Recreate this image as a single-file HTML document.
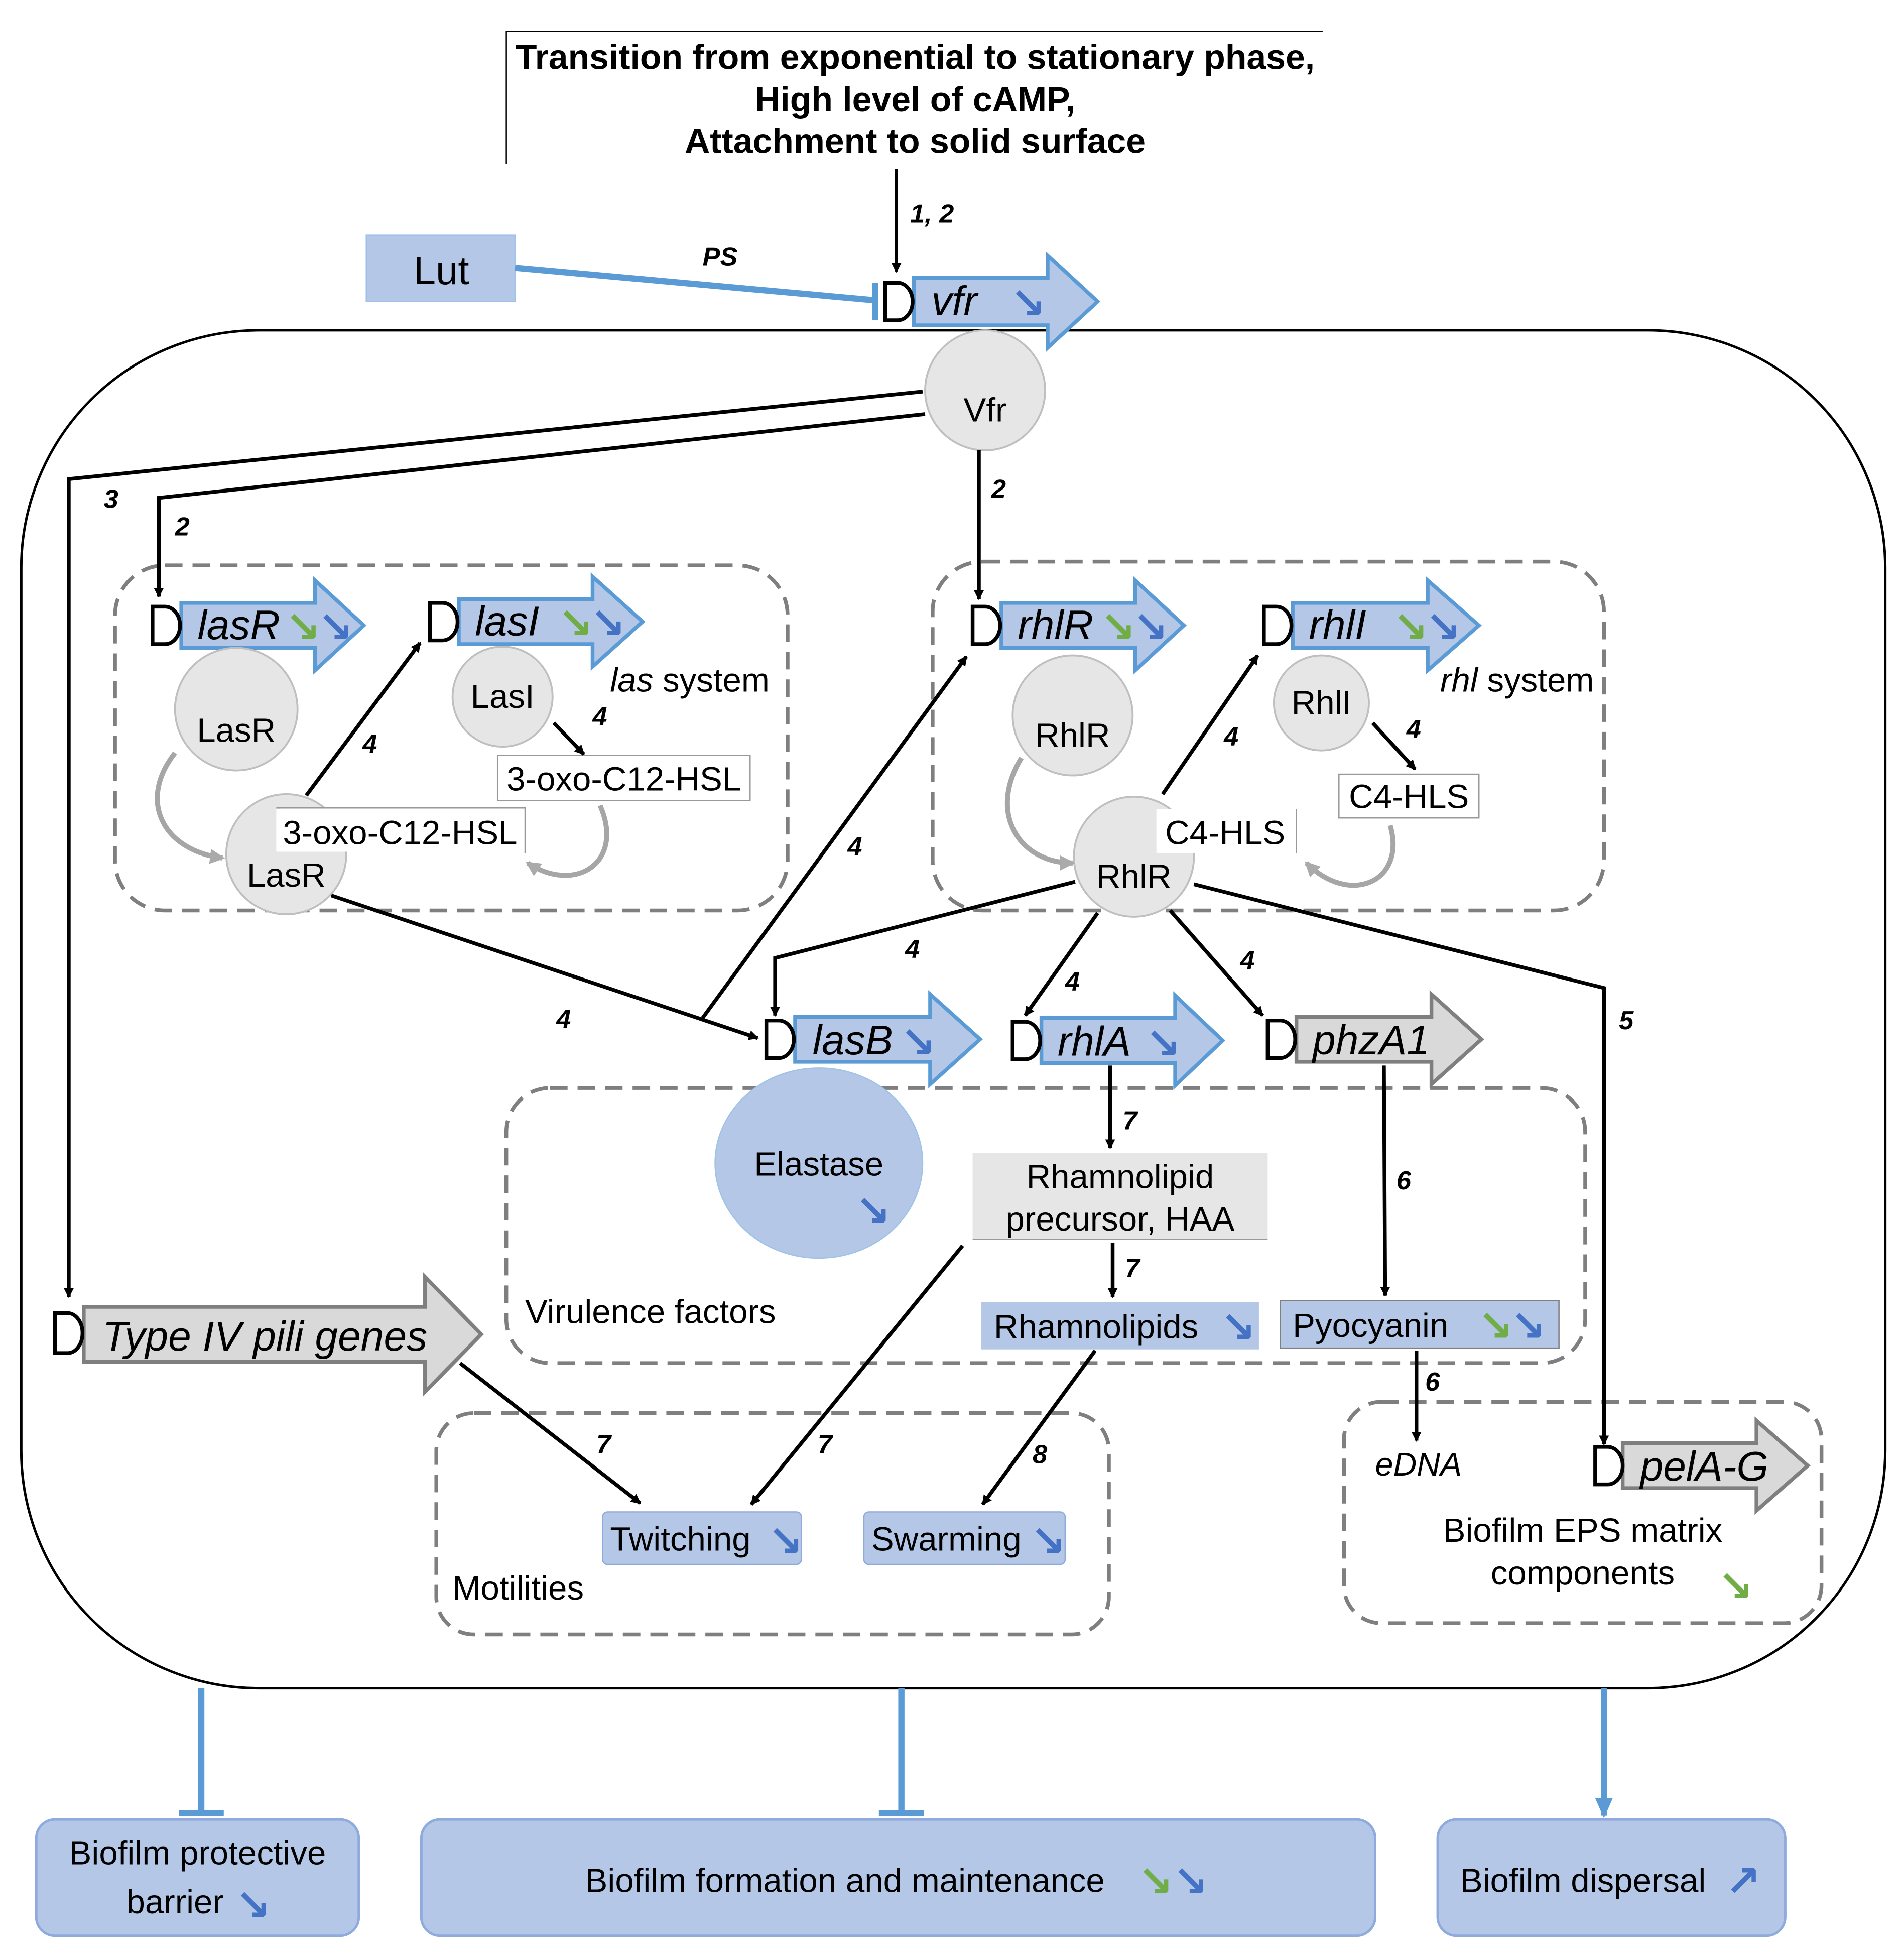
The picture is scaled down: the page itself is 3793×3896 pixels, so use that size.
<!DOCTYPE html>
<html><head><meta charset="utf-8"><style>
html,body{margin:0;padding:0;background:#fff}
svg{display:block}
text{font-family:"Liberation Sans","DejaVu Sans",sans-serif}
.n{font-style:italic;font-weight:bold;font-size:21px}
.g{font-style:italic;font-size:33px}
.l{font-size:27px}
.b{fill:#4472c4;font-family:"DejaVu Sans",sans-serif;font-size:34px;font-weight:bold}
.gr{fill:#70ad47;font-family:"DejaVu Sans",sans-serif;font-size:34px;font-weight:bold}
</style></head><body>
<svg width="3793" height="3896" viewBox="0 0 1523 1564" xmlns="http://www.w3.org/2000/svg">
<defs>
<marker id="a" markerWidth="8" markerHeight="8" refX="7" refY="4" orient="auto" markerUnits="userSpaceOnUse"><path d="M0,0 L8,4 L0,8 Z" fill="#000"/></marker>
<marker id="ab" markerWidth="16" markerHeight="14" refX="14" refY="7" orient="auto" markerUnits="userSpaceOnUse"><path d="M0,0 L16,7 L0,14 Z" fill="#5b9bd5"/></marker>
<marker id="ag" markerWidth="12" markerHeight="12" refX="10" refY="6" orient="auto" markerUnits="userSpaceOnUse"><path d="M0,0 L12,6 L0,12 Z" fill="#aaa"/></marker>
</defs>
<rect width="1523" height="1564" fill="#fff"/>
<path d="M405,131 V25 H1058" fill="none" stroke="#000" stroke-width="1"/>
<g font-weight="bold" font-size="28" text-anchor="middle">
<text x="732" y="55">Transition from exponential to stationary phase,</text>
<text x="732" y="89">High level of cAMP,</text>
<text x="732" y="122">Attachment to solid surface</text>
</g>
<line x1="717" y1="135" x2="717" y2="217" stroke="#000" stroke-width="2.5" marker-end="url(#a)"/>
<text class="n" x="728" y="178">1, 2</text>
<rect x="293" y="188" width="119" height="53" fill="#b4c7e7" stroke="#9dc3e6"/>
<text x="353" y="227" font-size="32" text-anchor="middle">Lut</text>
<line x1="412" y1="214" x2="700" y2="240" stroke="#5b9bd5" stroke-width="5"/>
<line x1="700" y1="226" x2="700" y2="256" stroke="#5b9bd5" stroke-width="5"/>
<text class="n" x="562" y="212">PS</text>
<rect x="17" y="264" width="1491" height="1086" rx="190" fill="none" stroke="#000" stroke-width="2"/>
<g fill="none" stroke="#7f7f7f" stroke-width="3" stroke-dasharray="14,8">
<rect x="92" y="452" width="538" height="276" rx="40"/>
<rect x="746" y="449" width="537" height="279" rx="40"/>
<rect x="405" y="870" width="863" height="220" rx="35"/>
<rect x="349" y="1130" width="538" height="177" rx="30"/>
<rect x="1075" y="1121" width="382" height="177" rx="30"/>
</g>
<g stroke="#5b9bd5" stroke-width="3" fill="#b4c7e7">
<path d="M731,222 H838 V204 L878,241 L838,278 V260 H731 Z"/>
<path d="M145,482 H252 V464 L291,500 L252,536 V518 H145 Z"/>
<path d="M367,479 H474 V461 L514,497 L474,533 V515 H367 Z"/>
<path d="M801,482 H908 V464 L947,500 L908,536 V518 H801 Z"/>
<path d="M1034,482 H1142 V464 L1183,500 L1142,536 V518 H1034 Z"/>
<path d="M636,813 H744 V795 L784,831 L744,867 V849 H636 Z"/>
<path d="M833,814 H940 V796 L978,832 L940,868 V850 H833 Z"/>
</g>
<g stroke="#7f7f7f" stroke-width="3" fill="#d9d9d9">
<path d="M1037,813 H1145 V795 L1185,831 L1145,867 V849 H1037 Z"/>
<path d="M67,1045 H340 V1021 L385,1067 L340,1113 V1089 H67 Z"/>
<path d="M1298,1154 H1405 V1136 L1446,1172 L1405,1208 V1190 H1298 Z"/>
</g>
<g fill="#fff" stroke="#000" stroke-width="3">
<path d="M708,226 H718 A12,15 0 0 1 718,256 H708 Z"/>
<path d="M122,485 H132 A12,15 0 0 1 132,515 H122 Z"/>
<path d="M344,482 H354 A12,15 0 0 1 354,512 H344 Z"/>
<path d="M778,485 H788 A12,15 0 0 1 788,515 H778 Z"/>
<path d="M1011,485 H1021 A12,15 0 0 1 1021,515 H1011 Z"/>
<path d="M613,816 H623 A12,15 0 0 1 623,846 H613 Z"/>
<path d="M810,817 H820 A12,15 0 0 1 820,847 H810 Z"/>
<path d="M1014,816 H1024 A12,15 0 0 1 1024,846 H1014 Z"/>
<path d="M44,1050 H54 A12,16 0 0 1 54,1082 H44 Z"/>
<path d="M1276,1157 H1286 A12,15 0 0 1 1286,1187 H1276 Z"/>
</g>
<text class="g" x="745" y="252">vfr</text><text class="b" x="808" y="254">↘</text>
<text class="g" x="158" y="511">lasR</text><text class="gr" x="228" y="513">↘</text><text class="b" x="254" y="513">↘</text>
<text class="g" x="380" y="508">lasI</text><text class="gr" x="446" y="510">↘</text><text class="b" x="472" y="510">↘</text>
<text class="g" x="814" y="511">rhlR</text><text class="gr" x="880" y="513">↘</text><text class="b" x="906" y="513">↘</text>
<text class="g" x="1047" y="511">rhlI</text><text class="gr" x="1114" y="513">↘</text><text class="b" x="1140" y="513">↘</text>
<text class="g" x="650" y="843">lasB</text><text class="b" x="720" y="845">↘</text>
<text class="g" x="846" y="844">rhlA</text><text class="b" x="916" y="846">↘</text>
<text class="g" x="1050" y="843">phzA1</text>
<text class="g" x="82" y="1080">Type IV pili genes</text>
<text class="g" x="1312" y="1184">pelA-G</text>
<g fill="#e7e6e6" stroke="#bfbfbf" stroke-width="1.5">
<circle cx="788" cy="312" r="48"/>
<circle cx="189" cy="567" r="49"/>
<circle cx="402" cy="557" r="40"/>
<circle cx="229" cy="683" r="48"/>
<circle cx="858" cy="572" r="48"/>
<circle cx="1057" cy="562" r="38"/>
<circle cx="907" cy="685" r="48"/>
</g>
<ellipse cx="655" cy="930" rx="83" ry="76" fill="#b4c7e7" stroke="#9dc3e6"/>
<g class="l" text-anchor="middle">
<text x="788" y="337">Vfr</text>
<text x="189" y="593">LasR</text>
<text x="402" y="566">LasI</text>
<text x="229" y="709">LasR</text>
<text x="858" y="597">RhlR</text>
<text x="1057" y="571">RhlI</text>
<text x="907" y="710">RhlR</text>
<text x="655" y="940">Elastase</text>
</g>
<text class="b" x="684" y="980">↘</text>
<g fill="none" stroke="#a6a6a6" stroke-width="4">
<path d="M140,602 C110,640 130,680 178,686" marker-end="url(#ag)"/>
<path d="M817,606 C790,650 815,690 858,690" marker-end="url(#ag)"/>
<path d="M480,644 C500,690 460,715 422,690" marker-end="url(#ag)"/>
<path d="M1112,660 C1125,705 1080,725 1045,690" marker-end="url(#ag)"/>
</g>
<rect x="398" y="604" width="202" height="36" fill="#fff" stroke="#999"/>
<text class="l" x="499" y="632" text-anchor="middle">3-oxo-C12-HSL</text>
<path d="M221,646 H420 V682" fill="#fff" stroke="#999"/>
<rect x="221" y="647" width="198" height="34" fill="#fff"/>
<text class="l" x="320" y="675" text-anchor="middle">3-oxo-C12-HSL</text>
<rect x="1071" y="619" width="112" height="35" fill="#fff" stroke="#999"/>
<text class="l" x="1127" y="646" text-anchor="middle">C4-HLS</text>
<rect x="925" y="647" width="111" height="35" fill="#fff"/>
<line x1="1037" y1="647" x2="1037" y2="682" stroke="#999"/>
<text class="l" x="980" y="675" text-anchor="middle">C4-HLS</text>
<text x="488" y="553" font-size="27"><tspan font-style="italic">las</tspan> system</text>
<text x="1152" y="553" font-size="27"><tspan font-style="italic">rhl</tspan> system</text>
<rect x="778" y="922" width="236" height="69" fill="#e6e6e6"/>
<line x1="778" y1="991" x2="1014" y2="991" stroke="#999"/>
<text class="l" x="896" y="950" text-anchor="middle">Rhamnolipid</text>
<text class="l" x="896" y="984" text-anchor="middle">precursor, HAA</text>
<g fill="#b4c7e7">
<rect x="785" y="1041" width="222" height="38"/>
<rect x="1024" y="1040" width="223" height="38" stroke="#7f7f7f"/>
<rect x="482" y="1209" width="159" height="42" rx="4" stroke="#8faadc"/>
<rect x="691" y="1209" width="161" height="42" rx="4" stroke="#8faadc"/>
</g>
<text class="l" x="795" y="1070">Rhamnolipids</text><text class="b" x="976" y="1073">↘</text>
<text class="l" x="1034" y="1069">Pyocyanin</text><text class="gr" x="1182" y="1072">↘</text><text class="b" x="1208" y="1072">↘</text>
<text class="l" x="488" y="1240">Twitching</text><text class="b" x="614" y="1244">↘</text>
<text class="l" x="697" y="1240">Swarming</text><text class="b" x="824" y="1244">↘</text>
<text class="l" x="420" y="1058">Virulence factors</text>
<text class="l" x="362" y="1279">Motilities</text>
<text x="1100" y="1180" font-size="26" font-style="italic">eDNA</text>
<text class="l" x="1266" y="1233" text-anchor="middle">Biofilm EPS matrix</text>
<text class="l" x="1266" y="1267" text-anchor="middle">components</text>
<text class="gr" x="1374" y="1280">↘</text>
<g fill="none" stroke="#000" stroke-width="3">
<path d="M738,313 L55,383 V1037" marker-end="url(#a)"/>
<path d="M740,331 L127,398 V477" marker-end="url(#a)"/>
<path d="M783,360 V479" marker-end="url(#a)"/>
<path d="M245,636 L336,514" marker-end="url(#a)"/>
<path d="M443,578 L467,603" marker-end="url(#a)"/>
<path d="M265,716 L606,830" marker-end="url(#a)"/>
<path d="M562,814 L773,525" marker-end="url(#a)"/>
<path d="M930,635 L1006,524" marker-end="url(#a)"/>
<path d="M1098,578 L1132,615" marker-end="url(#a)"/>
<path d="M860,705 L620,766 V812" marker-end="url(#a)"/>
<path d="M878,730 L820,812" marker-end="url(#a)"/>
<path d="M936,728 L1010,812" marker-end="url(#a)"/>
<path d="M955,707 L1283,790 V1155" marker-end="url(#a)"/>
<path d="M888,852 V918" marker-end="url(#a)"/>
<path d="M890,994 V1037" marker-end="url(#a)"/>
<path d="M1107,852 L1108,1036" marker-end="url(#a)"/>
<path d="M1133,1080 V1152" marker-end="url(#a)"/>
<path d="M368,1090 L512,1202" marker-end="url(#a)"/>
<path d="M770,996 L601,1203" marker-end="url(#a)"/>
<path d="M876,1080 L786,1203" marker-end="url(#a)"/>
</g>
<g class="n">
<text x="83" y="406">3</text>
<text x="140" y="428">2</text>
<text x="793" y="398">2</text>
<text x="290" y="602">4</text>
<text x="474" y="580">4</text>
<text x="678" y="684">4</text>
<text x="979" y="596">4</text>
<text x="1125" y="590">4</text>
<text x="724" y="766">4</text>
<text x="852" y="792">4</text>
<text x="992" y="775">4</text>
<text x="445" y="822">4</text>
<text x="1295" y="823">5</text>
<text x="898" y="903">7</text>
<text x="900" y="1021">7</text>
<text x="1117" y="951">6</text>
<text x="1140" y="1112">6</text>
<text x="477" y="1162">7</text>
<text x="654" y="1162">7</text>
<text x="826" y="1170">8</text>
</g>
<g stroke="#5b9bd5" stroke-width="5" fill="none">
<line x1="161" y1="1350" x2="161" y2="1450"/><line x1="143" y1="1450" x2="179" y2="1450"/>
<line x1="721" y1="1350" x2="721" y2="1450"/><line x1="703" y1="1450" x2="739" y2="1450"/>
<line x1="1283" y1="1350" x2="1283" y2="1452" marker-end="url(#ab)"/>
</g>
<g fill="#b4c7e7" stroke="#8faadc" stroke-width="2">
<rect x="29" y="1455" width="258" height="93" rx="15"/>
<rect x="337" y="1455" width="763" height="93" rx="15"/>
<rect x="1150" y="1455" width="278" height="93" rx="15"/>
</g>
<text class="l" x="158" y="1491" text-anchor="middle">Biofilm protective</text>
<text class="l" x="140" y="1530" text-anchor="middle">barrier</text><text class="b" x="188" y="1535">↘</text>
<text class="l" x="468" y="1513">Biofilm formation and maintenance</text><text class="gr" x="910" y="1516">↘</text><text class="b" x="938" y="1516">↘</text>
<text class="l" x="1168" y="1513">Biofilm dispersal</text><text class="b" x="1380" y="1516">↗</text>
</svg>
</body></html>
